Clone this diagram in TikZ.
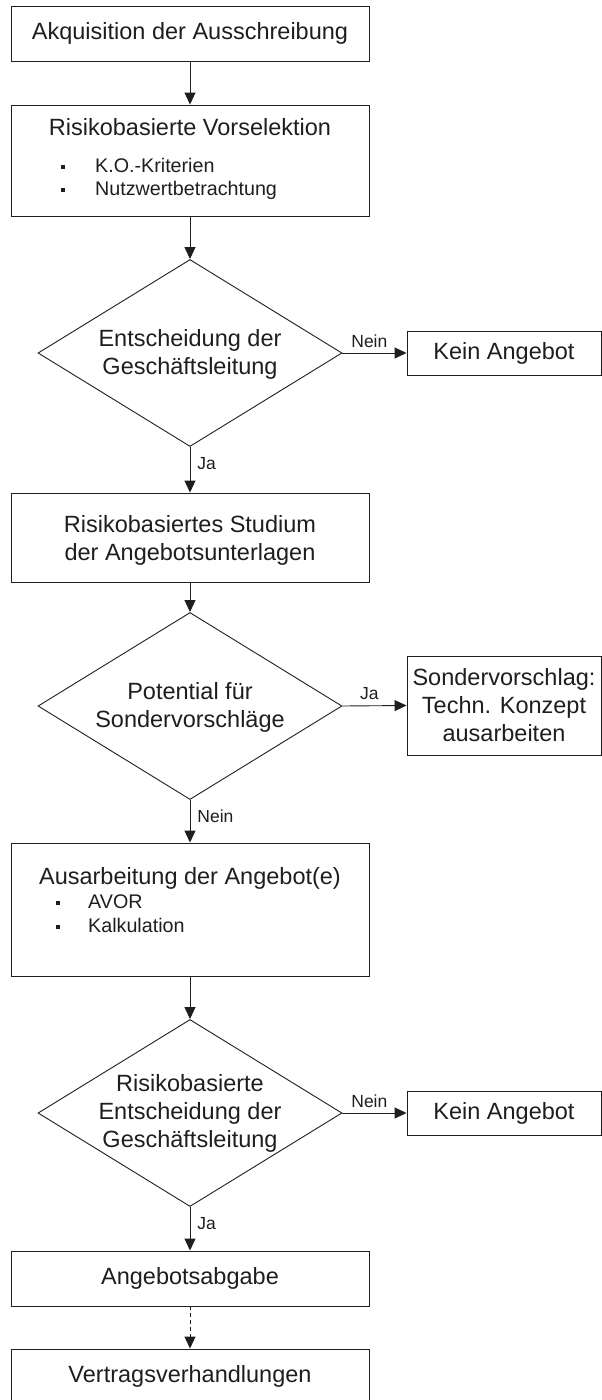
\documentclass[tikz,border=0pt]{standalone}
\usepackage{fontspec}
\setmainfont{Liberation Sans}
\usetikzlibrary{arrows.meta,shapes.geometric}
\definecolor{ink}{HTML}{1E1E1E}
\newcommand\bulx[1]{\makebox[#1][l]{\rule[3.5pt]{4pt}{4pt}}}
\begin{document}
\begin{tikzpicture}[x=1pt,y=-1pt,
  every node/.style={text=ink, font=\fontsize{23.5}{28}\selectfont},
  box/.style={draw=ink, line width=0.9pt, rectangle, inner sep=0pt, minimum width=358pt, align=center},
  side/.style={draw=ink, line width=0.9pt, rectangle, inner sep=0pt, minimum width=194pt, align=center},
  dec/.style={draw=ink, line width=0.9pt, diamond, inner sep=0pt, minimum width=304pt, minimum height=187pt},
  dectext/.style={align=center, inner sep=0pt},
  lbl/.style={font=\fontsize{17.5}{20}\selectfont, inner sep=0pt},
  itm/.style={font=\fontsize{19.7}{23}\selectfont, anchor=base west, inner sep=0pt},
  arr/.style={draw=ink, line width=0.9pt, -{Triangle[length=12pt,width=11pt]}},
  darr/.style={arr, dash pattern=on 4pt off 3pt}]
\useasboundingbox (0,0) rectangle (602,1400);

% boxes
\node[box, minimum height=55pt] (b1) at (190,33.5) {Akquisition der Ausschreibung};

\node[box, minimum height=111pt] (b2) at (190,160.5) {};
\node[inner sep=0pt] (b2t) at (190,127) {Risikobasierte Vorselektion};
\node[itm] (b2a) at (61,172) {\bulx{34pt}K.O.-Kriterien};
\node[itm] (b2b) at (61,195) {\bulx{34pt}Nutzwertbetrachtung};

\node[dec] (d1) at (190,353) {};
\node[dectext] (d1t) at (190,354) {Entscheidung der\\Geschäftsleitung};
\node[side, minimum height=44pt] (k1) at (504,353) {Kein Angebot};

\node[box, minimum height=89pt, text depth=0pt] (b3) at (190,537.5) {Risikobasiertes Studium\\der Angebotsunterlagen};

\node[dec] (d2) at (190,706) {};
\node[dectext] (d2t) at (190,707) {Potential für\\Sondervorschläge};
\node[side, minimum height=99pt] (s1) at (504,705.5) {Sondervorschlag:\\Techn. Konzept\\ausarbeiten};

\node[box, minimum height=133pt] (b4) at (190,909.5) {};
\node[inner sep=0pt] (b4t) at (190,878) {Ausarbeitung der Angebot(e)};
\node[itm] (b4a) at (56,908) {\bulx{32pt}AVOR};
\node[itm] (b4b) at (56,932) {\bulx{32pt}Kalkulation};

\node[dec] (d3) at (190,1113) {};
\node[dectext] (d3t) at (190,1113) {Risikobasierte\\Entscheidung der\\Geschäftsleitung};
\node[side, minimum height=44pt] (k2) at (504,1113) {Kein Angebot};

\node[box, minimum height=55pt] (b5) at (190,1278.5) {Angebotsabgabe};
\node[box, minimum height=55pt] (b6) at (190,1376.5) {Vertragsverhandlungen};

% connectors
\draw[arr] (b1.south) -- (b2.north);
\draw[arr] (b2.south) -- (d1.north);
\draw[arr] (d1.east) -- node[lbl, above=5pt, pos=0.42] (l1) {Nein} (k1.west);
\draw[arr] (d1.south) -- node[lbl, right=7pt, pos=0.36] (l2) {Ja} (b3.north);
\draw[arr] (b3.south) -- (d2.north);
\draw[arr] (d2.east) -- node[lbl, above=6pt, pos=0.42] (l3) {Ja} (s1.west);
\draw[arr] (d2.south) -- node[lbl, right=7pt, pos=0.39] (l4) {Nein} (b4.north);
\draw[arr] (b4.south) -- (d3.north);
\draw[arr] (d3.east) -- node[lbl, above=5pt, pos=0.42] (l5) {Nein} (k2.west);
\draw[arr] (d3.south) -- node[lbl, right=7pt, pos=0.38] (l6) {Ja} (b5.north);
\draw[darr] (b5.south) -- (b6.north);
\end{tikzpicture}
\end{document}
